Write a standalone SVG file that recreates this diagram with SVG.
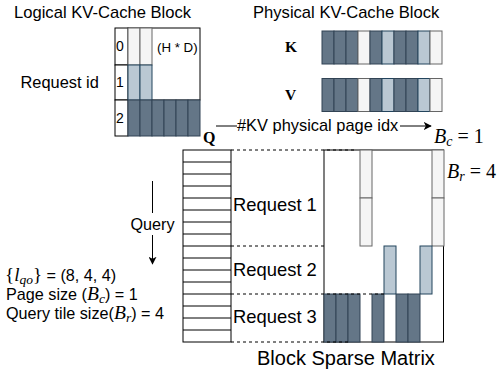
<svg xmlns="http://www.w3.org/2000/svg" width="498" height="370" viewBox="0 0 498 370">
<defs>
<style>
.sans{font-family:"Liberation Sans",Arial,sans-serif;fill:#000}
.math{font-family:"Liberation Serif","Times New Roman",serif;fill:#000}
.bold{font-family:"Liberation Serif","Times New Roman",serif;font-weight:bold;fill:#000}
.it{font-style:italic}
.cell{fill:#fff;stroke:#000;stroke-width:1}
.g{fill:#f5f5f5;stroke:#666666;stroke-width:1}
.b{fill:#bac8d3;stroke:#23445d;stroke-width:1}
.d{fill:#647687;stroke:#314354;stroke-width:1}
.dash{stroke:#000;stroke-width:1;stroke-dasharray:3 3;fill:none}
.ln{stroke:#000;stroke-width:1;fill:none}
</style>
<marker id="arr" viewBox="0 0 10 10" refX="9" refY="5" markerWidth="8" markerHeight="8" markerUnits="userSpaceOnUse" orient="auto">
<path d="M0,0 L10,5 L0,10 L2.5,5 Z" fill="#000"/>
</marker>
</defs>
<rect width="498" height="370" fill="#fff"/>

<g id="logical-block">
<text class="sans" x="14" y="18" font-size="16.6">Logical KV-Cache Block</text>
<text class="sans" x="20.5" y="88" font-size="16.4">Request id</text>
<rect class="cell" x="128" y="28" width="72" height="72"/>
<rect class="cell" x="115" y="28" width="13" height="37"/>
<rect class="cell" x="115" y="65" width="13" height="35"/>
<rect class="cell" x="115" y="100" width="13" height="36"/>
<text class="sans" x="116" y="51" font-size="14">0</text>
<text class="sans" x="116" y="87" font-size="14">1</text>
<text class="sans" x="116" y="123" font-size="14">2</text>
<rect class="g" x="128" y="28" width="12" height="37"/>
<rect class="g" x="140" y="28" width="12" height="37"/>
<rect class="b" x="128" y="65" width="12" height="35"/>
<rect class="b" x="140" y="65" width="12" height="35"/>
<rect class="d" x="128" y="100" width="12" height="36"/>
<rect class="d" x="140" y="100" width="12" height="36"/>
<rect class="d" x="152" y="100" width="12" height="36"/>
<rect class="d" x="164" y="100" width="12" height="36"/>
<rect class="d" x="176" y="100" width="12" height="36"/>
<rect class="d" x="188" y="100" width="12" height="36"/>
<text class="sans" x="157" y="52" font-size="13.3">(H * D)</text>
</g>

<g id="physical-block">
<text class="sans" x="253" y="18" font-size="16.6">Physical KV-Cache Block</text>
<text class="bold" x="285" y="52" font-size="15.5">K</text>
<text class="bold" x="285" y="100" font-size="15.5">V</text>
<g id="k-row">
<rect class="d" x="322" y="31" width="12" height="33"/>
<rect class="d" x="334" y="31" width="12" height="33"/>
<rect class="d" x="346" y="31" width="12" height="33"/>
<rect class="g" x="358" y="31" width="12" height="33"/>
<rect class="d" x="370" y="31" width="12" height="33"/>
<rect class="b" x="382" y="31" width="12" height="33"/>
<rect class="d" x="394" y="31" width="12" height="33"/>
<rect class="d" x="406" y="31" width="12" height="33"/>
<rect class="b" x="418" y="31" width="12" height="33"/>
<rect class="g" x="430" y="31" width="12" height="33"/>
</g>
<g id="v-row">
<rect class="d" x="322" y="78.5" width="12" height="33"/>
<rect class="d" x="334" y="78.5" width="12" height="33"/>
<rect class="d" x="346" y="78.5" width="12" height="33"/>
<rect class="g" x="358" y="78.5" width="12" height="33"/>
<rect class="d" x="370" y="78.5" width="12" height="33"/>
<rect class="b" x="382" y="78.5" width="12" height="33"/>
<rect class="d" x="394" y="78.5" width="12" height="33"/>
<rect class="d" x="406" y="78.5" width="12" height="33"/>
<rect class="b" x="418" y="78.5" width="12" height="33"/>
<rect class="g" x="430" y="78.5" width="12" height="33"/>
</g>
</g>

<g id="query-stack">
<text class="bold" x="203" y="143" font-size="16">Q</text>
<rect class="cell" x="183" y="150" width="48" height="192"/>
<path class="ln" d="M183,162H231M183,174H231M183,186H231M183,198H231M183,210H231M183,222H231M183,234H231M183,246H231M183,258H231M183,270H231M183,282H231M183,294H231M183,306H231M183,318H231M183,330H231"/>
</g>

<g id="block-sparse-matrix">
<rect class="cell" x="324" y="150" width="119.5" height="192"/>
<rect class="g" x="360" y="150" width="12" height="48"/>
<rect class="g" x="360" y="198" width="12" height="48"/>
<rect class="g" x="432" y="150" width="12" height="48"/>
<rect class="g" x="432" y="198" width="12" height="48"/>
<rect class="b" x="384" y="246" width="12" height="48"/>
<rect class="b" x="420" y="246" width="12" height="48"/>
<rect class="d" x="324" y="294" width="12" height="48"/>
<rect class="d" x="336" y="294" width="12" height="48"/>
<rect class="d" x="348" y="294" width="12" height="48"/>
<rect class="d" x="372" y="294" width="12" height="48"/>
<rect class="d" x="396" y="294" width="12" height="48"/>
<rect class="d" x="408" y="294" width="12" height="48"/>
<text class="sans" x="257" y="365" font-size="20">Block Sparse Matrix</text>
</g>

<g id="request-labels">
<text class="sans" x="233" y="210.5" font-size="18.4">Request 1</text>
<text class="sans" x="233" y="276" font-size="18.4">Request 2</text>
<text class="sans" x="233" y="323" font-size="18.4">Request 3</text>
</g>

<g id="params">
<text class="math" x="434" y="143" font-size="20"><tspan class="it">B</tspan><tspan class="it" font-size="14" dy="3">c</tspan><tspan dy="-3"> = 1</tspan></text>
<text class="math" x="447" y="178" font-size="20"><tspan class="it">B</tspan><tspan class="it" font-size="14" dy="3">r</tspan><tspan dy="-3"> = 4</tspan></text>
<text x="5" y="281" font-size="16.2"><tspan class="math" font-size="19">{</tspan><tspan class="math it" font-size="19">l</tspan><tspan class="math it" font-size="13.5" dy="2.5">qo</tspan><tspan class="math" font-size="19" dy="-2.5">}</tspan><tspan class="sans"> = (8, 4, 4)</tspan></text>
<text x="6" y="300" font-size="16.2"><tspan class="sans">Page size (</tspan><tspan class="math it" font-size="19.5">B</tspan><tspan class="math it" font-size="13.5" dy="2.5">c</tspan><tspan class="sans" dy="-2.5">) = 1</tspan></text>
<text x="6" y="319" font-size="16.2"><tspan class="sans">Query tile size(</tspan><tspan class="math it" font-size="19.5">B</tspan><tspan class="math it" font-size="13.5" dy="2.5">r</tspan><tspan class="sans" dy="-2.5">) = 4</tspan></text>
</g>

<g id="connectors">
<line class="ln" x1="216" y1="126" x2="237" y2="126"/>
<text class="sans" x="237" y="131" font-size="16.4">#KV physical page idx</text>
<line class="ln" x1="400" y1="126" x2="431" y2="126" marker-end="url(#arr)"/>
<line class="ln" x1="152.5" y1="181" x2="152.5" y2="213"/>
<text class="sans" x="152.5" y="230" font-size="16.2" text-anchor="middle">Query</text>
<line class="ln" x1="152.5" y1="235" x2="152.5" y2="264" marker-end="url(#arr)"/>
<line class="dash" x1="231" y1="150" x2="354" y2="150"/>
<line class="dash" x1="231" y1="246" x2="324" y2="246"/>
<line class="dash" x1="231" y1="294" x2="384" y2="294"/>
<line class="dash" x1="231" y1="342" x2="350" y2="342"/>
</g>
</svg>
